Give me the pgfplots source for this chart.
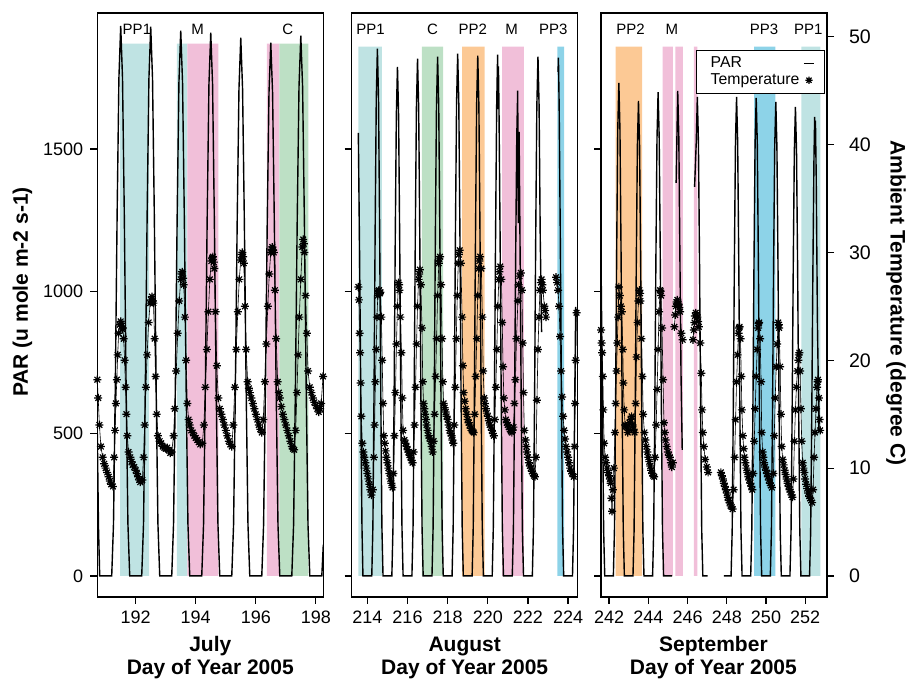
\documentclass[border=0pt]{standalone}
\usepackage{fontspec}
\setmainfont{Liberation Sans}
\usepackage{pgfplots}
\pgfplotsset{compat=1.18}

\definecolor{cPPone}{HTML}{BFE3E3}
\definecolor{cM}{HTML}{F1BFD9}
\definecolor{cC}{HTML}{BDE0C5}
\definecolor{cPPtwo}{HTML}{FCC995}
\definecolor{cPPthree}{HTML}{8DD3E8}

% R-like pch 8 star
\pgfdeclareplotmark{rstar}{%
  \pgfpathmoveto{\pgfqpoint{-\pgfplotmarksize}{0pt}}%
  \pgfpathlineto{\pgfqpoint{\pgfplotmarksize}{0pt}}%
  \pgfpathmoveto{\pgfqpoint{0pt}{-\pgfplotmarksize}}%
  \pgfpathlineto{\pgfqpoint{0pt}{\pgfplotmarksize}}%
  \pgfpathmoveto{\pgfqpoint{-.7071\pgfplotmarksize}{-.7071\pgfplotmarksize}}%
  \pgfpathlineto{\pgfqpoint{.7071\pgfplotmarksize}{.7071\pgfplotmarksize}}%
  \pgfpathmoveto{\pgfqpoint{-.7071\pgfplotmarksize}{.7071\pgfplotmarksize}}%
  \pgfpathlineto{\pgfqpoint{.7071\pgfplotmarksize}{-.7071\pgfplotmarksize}}%
  \pgfusepathqstroke}

\tikzset{blab/.style={font=\fontsize{7.5}{8}\selectfont, anchor=base}}
\pgfplotsset{
  panel/.style={width=113pt, height=292pt, scale only axis, anchor=south west,
    ymin=-74, ymax=1978, ytick={0,500,1000,1500}, tick pos=left,
    tick align=outside, major tick length=3.5pt,
    tick style={black, line width=0.6pt}, axis line style={line width=0.75pt},
    ticklabel style={font=\fontsize{9}{10}\selectfont},
    /pgf/number format/assume math mode=true, /pgf/number format/1000 sep={}},
  tempaxis/.style={width=113pt, height=292pt, scale only axis, anchor=south west,
    ymin=-1.95, ymax=52.2},
  par/.style={black, line width=0.7pt, no markers, unbounded coords=jump},
  tmp/.style={black, line width=0.3pt, mark=rstar, mark size=2pt,
    mark options={line width=0.6pt, solid}, unbounded coords=jump},
  band/.style={draw=none, fill=#1, forget plot},
}

\begin{document}
\begin{tikzpicture}
\useasboundingbox (0,0) rectangle (454pt,341.5pt);

% ---------------- July ----------------
\begin{axis}[panel, at={(48.65pt,43pt)}, xmin=190.72, xmax=198.25, xtick={192,194,196,198}]
\addplot[band=cPPone] coordinates {(191.48,0)(191.48,1870)(192.45,1870)(192.45,0)} \closedcycle;
\addplot[band=cPPone] coordinates {(193.37,0)(193.37,1870)(193.72,1870)(193.72,0)} \closedcycle;
\addplot[band=cM] coordinates {(193.72,0)(193.72,1870)(194.75,1870)(194.75,0)} \closedcycle;
\addplot[band=cM] coordinates {(196.37,0)(196.37,1870)(196.79,1870)(196.79,0)} \closedcycle;
\addplot[band=cC] coordinates {(196.79,0)(196.79,1870)(197.75,1870)(197.75,0)} \closedcycle;
\addplot[par] coordinates {
(190.72,500)(190.76,170)(190.8,0)
(191.2,0)(191.26,184)(191.32,667)(191.38,1266)(191.44,1749)(191.5,1933)(191.56,1749)(191.62,1266)(191.68,667)(191.74,184)(191.8,0)
(192.2,0)(192.26,183)(192.32,666)(192.38,1264)(192.44,1747)(192.5,1930)(192.56,1747)(192.62,1264)(192.68,666)(192.74,183)(192.8,0)
(193.2,0)(193.26,182)(193.32,661)(193.38,1255)(193.44,1734)(193.5,1916)(193.56,1734)(193.62,1255)(193.68,661)(193.74,182)(193.8,0)
(194.2,0)(194.26,181)(194.32,659)(194.38,1250)(194.44,1728)(194.5,1909)(194.56,1728)(194.62,1250)(194.68,659)(194.74,181)(194.8,0)
(195.2,0)(195.26,180)(195.32,652)(195.38,1239)(195.44,1711)(195.5,1891)(195.56,1711)(195.62,1239)(195.68,652)(195.74,180)(195.8,0)
(196.2,0)(196.26,178)(196.32,647)(196.38,1227)(196.44,1696)(196.5,1874)(196.56,1696)(196.62,1227)(196.68,647)(196.74,178)(196.8,0)
(197.2,0)(197.26,180)(197.32,655)(197.38,1243)(197.44,1718)(197.5,1898)(197.56,1718)(197.62,1243)(197.68,655)(197.74,180)(197.8,0)
(198.2,0)(198.25,110)
};
\node[blab] at (axis cs:192.04,1901) {PP1};
\node[blab] at (axis cs:194.06,1901) {M};
\node[blab] at (axis cs:197.07,1901) {C};
\end{axis}
\begin{axis}[tempaxis, at={(48.65pt,43pt)}, xmin=190.72, xmax=198.25, hide axis]
\addplot[tmp] coordinates {
(190.72,18.2)(190.75,16.5)(190.79,14)(190.84,12)(190.9,11)(190.95,10.4)(191.0,10)(191.05,9.6)(191.1,9.2)(191.14,8.8)(191.18,8.5)(191.24,8.3)
(191.28,11)(191.31,13.5)(191.34,16)(191.37,18.2)(191.4,20.5)(191.43,22.5)(191.47,23.3)(191.5,23.6)(191.52,23.4)(191.55,22.9)(191.57,23)
(191.6,22)(191.63,20)(191.66,17.5)(191.69,15)(191.72,13)(191.76,11.5)(191.82,11)(191.86,10.6)(191.9,10.3)(191.95,10.1)(192.0,9.8)(192.04,9.5)(192.08,9.2)(192.12,8.9)(192.15,8.7)(192.22,8.9)
(192.26,11)(192.3,14)(192.34,17.5)(192.38,20.5)(192.43,23.5)(192.48,25.3)(192.51,25.6)(192.54,25.9)(192.57,25.5)(192.59,25.3)
(192.63,22)(192.66,18.5)(192.7,15)(192.74,13)(192.8,12.5)(192.85,12.3)(192.9,12)(192.95,11.9)(193.0,11.8)(193.05,11.9)(193.1,11.7)(193.15,11.4)(193.2,11.5)
(193.26,13)(193.3,15.5)(193.35,19)(193.4,22.5)(193.45,25.5)(193.5,27.5)(193.53,28)(193.55,28.2)(193.58,27.6)(193.6,27)
(193.64,24)(193.68,20)(193.72,16)(193.76,14.5)(193.8,14)(193.85,13.5)(193.9,13.3)(193.95,13)(194.0,12.8)(194.05,12.6)(194.1,12.4)(194.15,12.2)(194.22,12.3)
(194.27,14)(194.32,17.5)(194.37,21)(194.42,24.5)(194.47,27.5)(194.52,29.2)(194.55,29.5)(194.57,29.6)(194.6,29.1)(194.62,28.5)
(194.66,24.5)(194.7,19.5)(194.75,16.5)(194.8,15.5)(194.85,15)(194.9,14.5)(194.95,14)(195.0,13.5)(195.05,13)(195.1,12.5)(195.15,12.2)(195.2,12)
(195.25,14)(195.3,17.5)(195.35,21)(195.4,24.5)(195.45,27.5)(195.5,29.3)(195.53,29.8)(195.55,30)(195.58,29.6)(195.6,29)
(195.64,25)(195.68,21)(195.73,18)(195.77,17.4)(195.8,17)(195.85,16.5)(195.9,16)(195.95,15.5)(196.0,15)(196.05,14.5)(196.1,14)(196.15,13.6)(196.2,13.3)
(196.25,14.5)(196.3,18)(196.35,21.5)(196.4,25)(196.45,28)(196.5,30)(196.53,30.3)(196.55,30.5)(196.58,30.2)(196.6,30)
(196.64,26.5)(196.68,22)(196.73,18)(196.77,17)(196.8,16.5)(196.85,15.7)(196.9,15)(196.95,14.5)(197.0,14)(197.05,13.5)(197.1,13)(197.15,12.5)(197.2,12)(197.24,11.8)(197.28,11.7)
(197.33,13.5)(197.37,17)(197.41,20.5)(197.45,24)(197.5,27.5)(197.55,30.5)(197.58,31.2)(197.6,30.8)(197.62,30)
(197.66,26)(197.7,22.5)(197.74,19)(197.8,17.5)(197.85,17)(197.9,16.5)(197.95,16.1)(198.0,15.8)(198.05,15.5)(198.1,15.2)(198.14,15.5)(198.18,16)(198.24,18.5)
};
\end{axis}

% ---------------- August ----------------
\begin{axis}[panel, at={(175.85pt,43pt)}, xmin=213.22, xmax=224.48, xtick={214,216,218,220,222,224}, yticklabels={}]
\addplot[band=cPPone] coordinates {(213.55,0)(213.55,1860)(214.72,1860)(214.72,0)} \closedcycle;
\addplot[band=cC] coordinates {(216.72,0)(216.72,1860)(217.77,1860)(217.77,0)} \closedcycle;
\addplot[band=cPPtwo] coordinates {(218.72,0)(218.72,1860)(219.84,1860)(219.84,0)} \closedcycle;
\addplot[band=cM] coordinates {(220.72,0)(220.72,1860)(221.8,1860)(221.8,0)} \closedcycle;
\addplot[band=cPPthree] coordinates {(223.47,0)(223.47,1860)(223.8,1860)(223.8,0)} \closedcycle;
\addplot[par] coordinates {
(213.55,1557)(213.61,1150)(213.674,620)(213.732,170)(213.78,0)
(214.22,0)(214.276,176)(214.332,639)(214.388,1214)(214.444,1677)(214.5,1853)(214.556,1677)(214.612,1214)(214.668,639)(214.724,176)(214.78,0)
(215.22,0)(215.276,170)(215.332,617)(215.388,1172)(215.444,1619)(215.5,1789)(215.556,1619)(215.612,1172)(215.668,617)(215.724,170)(215.78,0)
(216.22,0)(216.276,173)(216.332,627)(216.388,1191)(216.444,1645)(216.5,1818)(216.556,1645)(216.612,1191)(216.668,627)(216.724,173)(216.78,0)
(217.22,0)(217.276,173)(217.332,630)(217.388,1195)(217.444,1652)(217.5,1825)(217.556,1652)(217.612,1195)(217.668,630)(217.724,173)(217.78,0)
(218.22,0)(218.276,174)(218.332,633)(218.388,1202)(218.444,1661)(218.5,1835)(218.556,1661)(218.612,1202)(218.668,633)(218.724,174)(218.78,0)
(219.22,0)(219.276,174)(219.332,631)(219.388,1197)(219.444,1654)(219.5,1828)(219.556,1654)(219.612,1197)(219.668,631)(219.724,174)(219.78,0)
(220.22,0)(220.276,174)(220.332,632)(220.388,1200)(220.444,1658)(220.49,1832)(220.51,1640)(220.53,1790)(220.556,1658)(220.612,1200)(220.668,632)(220.724,174)(220.78,0)
(221.22,0)(221.276,162)(221.332,588)(221.388,1117)(221.444,1543)(221.49,1705)(221.52,1240)(221.56,1560)(221.612,1117)(221.668,588)(221.724,162)(221.78,0)
(222.22,0)(222.276,173)(222.332,630)(222.388,1195)(222.444,1652)(222.5,1825)(222.556,1652)(222.612,1195)(222.68,857)(222.7,nan)
(223.5,1771)(223.52,1821)(223.556,1648)(223.612,1193)(223.668,628)(223.724,173)(223.78,0)
(224.22,0)(224.276,173)(224.332,628)(224.38,945)
};
\node[blab] at (axis cs:214.16,1901) {PP1};
\node[blab] at (axis cs:217.25,1901) {C};
\node[blab] at (axis cs:219.25,1901) {PP2};
\node[blab] at (axis cs:221.19,1901) {M};
\node[blab] at (axis cs:223.26,1901) {PP3};
\end{axis}
\begin{axis}[tempaxis, at={(175.85pt,43pt)}, xmin=213.22, xmax=224.48, hide axis]
\addplot[tmp] coordinates {
(213.55,26.8)(213.58,25.6)(213.61,22.5)(213.64,20.7)(213.67,17.9)(213.7,14.8)(213.75,12.3)(213.8,11.5)(213.85,11)(213.9,10.5)(213.95,10)(214.0,9.5)(214.05,9)(214.1,8.5)(214.15,8)(214.2,7.5)
(214.27,8)(214.32,11)(214.36,14)(214.4,18)(214.44,21)(214.48,24)(214.52,26)(214.55,26.4)(214.58,26.5)(214.62,26.2)(214.65,26.3)
(214.7,24)(214.74,20)(214.78,16)(214.82,13)(214.87,12.3)(214.91,11.6)(214.95,11)(215.0,10.5)(215.05,10)(215.1,9.5)(215.15,9)(215.2,8.6)(215.25,8.2)
(215.3,9.5)(215.35,13)(215.4,17)(215.45,21.5)(215.5,25)(215.55,27.2)(215.58,27)(215.6,26.5)(215.65,24)
(215.7,20.7)(215.74,16.5)(215.78,13.5)(215.85,12.6)(215.9,12.3)(215.95,12)(216.0,11.7)(216.05,11.5)(216.1,11.2)(216.15,11)(216.2,10.7)(216.25,10.5)
(216.3,11.5)(216.35,14)(216.4,17.5)(216.45,21.5)(216.5,25)(216.55,27.5)(216.58,28)(216.62,28.4)(216.67,27)
(216.72,23)(216.76,18)(216.8,16)(216.84,15.5)(216.88,15)(216.92,14.5)(216.95,14)(217.0,13.5)(217.05,13)(217.1,12.8)(217.15,12.5)(217.2,12)(217.25,11.5)
(217.3,12.5)(217.35,15)(217.4,18.5)(217.45,22)(217.5,26)(217.56,29)(217.59,29.4)(217.62,29.6)(217.67,27)
(217.72,22)(217.76,18)(217.8,16)(217.85,15.6)(217.9,15.2)(217.95,14.8)(218.0,14.5)(218.05,14)(218.1,13.5)(218.15,13.2)(218.2,13)(218.24,12.6)(218.28,12.3)
(218.33,14)(218.38,17.5)(218.43,22)(218.48,26)(218.53,29)(218.56,29.8)(218.6,30.2)(218.66,29)
(218.72,24)(218.76,19.5)(218.8,17)(218.85,16.2)(218.9,15.5)(218.95,15)(219.0,14.5)(219.05,14.2)(219.1,14)(219.15,13.7)(219.2,13.5)(219.25,13.4)(219.3,13.3)
(219.35,15)(219.4,18.5)(219.45,22)(219.5,26)(219.55,28.5)(219.58,29.2)(219.62,29.6)(219.68,28.5)
(219.73,24)(219.77,19)(219.82,16.5)(219.86,16)(219.9,15.5)(219.95,15.1)(220.0,14.8)(220.05,14.4)(220.1,14)(220.15,13.8)(220.2,13.5)(220.25,13.2)(220.3,13)
(220.35,14.5)(220.4,17.5)(220.45,21)(220.5,25)(220.55,27.5)(220.58,28.2)(220.62,28.7)(220.68,27.5)
(220.72,23.5)(220.76,19.4)(220.8,16.5)(220.85,15.4)(220.9,14.5)(220.95,14.2)(221.0,14)(221.05,13.8)(221.1,13.6)(221.15,13.4)(221.2,13.3)(221.24,13.5)(221.28,13.8)
(221.33,16)(221.38,18.2)(221.43,22)(221.5,25.5)(221.54,27)(221.58,27.8)(221.65,28.1)(221.7,26.5)
(221.74,21.6)(221.78,17)(221.82,13.5)(221.88,12.6)(221.92,12)(221.95,11.5)(222.0,11)(222.05,10.5)(222.1,10.2)(222.15,10)(222.2,9.7)(222.25,9.5)(222.3,9.3)(222.35,9.2)
(222.4,11)(222.45,16.3)(222.5,21)(222.55,24)(222.6,26.5)(222.64,27.2)(222.68,27.5)(222.72,27)(222.75,26.5)(222.82,25)(222.86,24.6)(222.9,24)
(223.0,nan)
(223.4,27.7)(223.45,27.2)(223.5,26.5)(223.55,25)(223.6,22.2)(223.65,19)(223.7,16.6)(223.75,14.8)(223.8,13.5)
(223.85,12.7)(223.9,12)(223.95,11.5)(224.0,11)(224.05,10.5)(224.1,10)(224.15,9.7)(224.2,9.5)(224.28,9.2)(224.32,12)(224.35,16)(224.38,20)(224.42,24.4)
};
\end{axis}

% ---------------- September ----------------
\begin{axis}[panel, at={(300.5pt,43pt)}, xmin=241.59, xmax=253.11, xtick={242,244,246,248,250,252}, yticklabels={}]
\addplot[band=cPPtwo] coordinates {(242.34,0)(242.34,1860)(243.68,1860)(243.68,0)} \closedcycle;
\addplot[band=cM] coordinates {(244.73,0)(244.73,1860)(245.25,1860)(245.25,0)} \closedcycle;
\addplot[band=cM] coordinates {(245.38,0)(245.38,1860)(245.76,1860)(245.76,0)} \closedcycle;
\addplot[band=cM] coordinates {(246.32,0)(246.32,1860)(246.5,1860)(246.5,0)} \closedcycle;
\addplot[band=cPPthree] coordinates {(249.4,0)(249.4,1860)(250.48,1860)(250.48,0)} \closedcycle;
\addplot[band=cPPone] coordinates {(251.8,0)(251.8,1860)(252.77,1860)(252.77,0)} \closedcycle;
\addplot[par] coordinates {
(241.59,1120)(241.668,580)(241.724,160)(241.78,0)
(242.22,0)(242.276,165)(242.332,598)(242.388,1134)(242.444,1567)(242.5,1732)(242.556,1567)(242.612,1134)(242.668,598)(242.724,165)(242.78,0)
(243.22,0)(243.276,159)(243.332,576)(243.388,1093)(243.444,1510)(243.5,1669)(243.556,1510)(243.612,1093)(243.668,576)(243.724,159)(243.78,0)
(244.22,0)(244.276,162)(244.332,587)(244.388,1114)(244.444,1539)(244.5,1700)(244.556,1539)(244.612,1114)(244.668,587)(244.724,162)(244.78,0)
(245.22,0)(245.3,nan)
(245.42,1381)(245.5,1704)(245.556,1542)(245.612,1116)(245.67,700)(245.73,443)(245.8,nan)
(246.36,1367)(246.444,1523)(246.5,1683)(246.556,1523)(246.612,1102)(246.668,581)(246.724,160)(246.78,0)(247.03,0)(247.4,nan)
(247.85,0)(248.22,0)(248.276,160)(248.332,581)(248.388,1102)(248.444,1523)(248.5,1683)(248.556,1523)(248.612,1102)(248.668,581)(248.724,160)(248.78,0)
(249.22,0)(249.276,160)(249.332,580)(249.388,1100)(249.444,1520)(249.5,1680)(249.556,1520)(249.612,1100)(249.668,580)(249.724,160)(249.78,0)
(250.22,0)(250.276,158)(250.332,575)(250.388,1091)(250.444,1508)(250.5,1666)(250.556,1508)(250.612,1091)(250.668,575)(250.724,158)(250.78,0)
(251.22,0)(251.276,157)(251.332,569)(251.388,1079)(251.444,1491)(251.5,1648)(251.556,1491)(251.612,1079)(251.668,569)(251.724,157)(251.78,0)
(252.22,0)(252.276,153)(252.332,556)(252.388,1057)(252.444,1460)(252.48,1613)(252.5,1540)(252.52,1600)(252.56,1400)(252.62,900)(252.7,506)
};
\node[blab] at (axis cs:243.1,1901) {PP2};
\node[blab] at (axis cs:245.2,1901) {M};
\node[blab] at (axis cs:249.9,1901) {PP3};
\node[blab] at (axis cs:252.15,1901) {PP1};
\end{axis}
\begin{axis}[tempaxis, at={(300.5pt,43pt)}, xmin=241.59, xmax=253.11,
  axis x line=none, axis y line*=right, ytick={0,10,20,30,40,50},
  tick align=outside, major tick length=3.5pt, tick style={black, line width=0.6pt},
  axis line style={line width=0.75pt},
  yticklabel style={font=\fontsize{9.8}{11}\selectfont, xshift=4pt},
  /pgf/number format/assume math mode=true,
  legend plot pos=right,
  legend style={at={(0.992,0.937)}, anchor=north east, draw=black, line width=0.6pt,
    font=\fontsize{7.9}{8.6}\selectfont, inner xsep=5pt, inner ysep=1pt, row sep=-2.5pt,
    cells={anchor=west}}]
\addlegendimage{legend image code/.code={\draw[black, line width=0.5pt] (0cm,0cm) -- (0.18cm,0cm);}}
\addlegendentry{PAR}
\addplot[tmp, legend image code/.code={\draw[mark=rstar, mark size=1.8pt, mark options={line width=0.6pt}] plot[only marks] coordinates {(0.09cm,0cm)};}] coordinates {
(241.59,22.8)(241.62,21.6)(241.65,20.7)(241.68,18.5)(241.71,15.4)(241.75,12.3)(241.8,11)(241.85,10.5)(241.9,10)(241.95,9.6)(242.0,9.3)(242.04,9)(242.08,8.6)(242.12,7.2)(242.15,6)(242.2,8)
(242.25,10)(242.3,13.3)(242.34,16)(242.38,19)(242.42,21.6)(242.46,24)(242.5,26.8)(242.55,26)(242.6,25)(242.65,24.5)
(242.7,21)(242.73,17.9)(242.77,15.4)(242.82,14)(242.86,13.9)(242.9,13.8)(242.95,13.3)(243.0,13.5)(243.05,14.2)(243.1,14.5)(243.15,14.8)(243.2,14)(243.25,13.6)(243.3,13.3)
(243.36,16)(243.4,20.3)(243.45,23.5)(243.5,25.5)(243.55,26.5)(243.58,26.2)(243.6,25.5)
(243.65,22)(243.7,18.5)(243.74,15)(243.8,13.3)(243.85,12.6)(243.9,12)(243.95,11.5)(244.0,11)(244.05,10.6)(244.1,10.2)(244.15,9.8)(244.2,9.5)(244.25,9.3)(244.3,9.2)
(244.35,11)(244.4,14)(244.45,17.3)(244.5,21)(244.55,24.5)(244.6,26.5)(244.63,26.4)(244.65,26)
(244.7,23)(244.75,18.2)(244.8,14.2)(244.84,13.3)(244.88,12.6)(244.94,12)(245.0,11.5)(245.05,11.2)(245.1,11)(245.15,10.5)(245.2,10.1)(245.25,10.5)
(245.29,nan)
(245.33,23.1)(245.37,24.2)(245.4,25)(245.44,25.4)(245.48,25.6)(245.52,25.3)(245.55,25.2)(245.59,24.9)(245.62,24.5)(245.68,22.5)(245.75,21.9)
(246.0,nan)
(246.28,21.9)(246.32,22.8)(246.35,23.5)(246.38,24.1)(246.42,24.4)(246.46,24.2)(246.5,24)(246.54,23.6)(246.58,23.1)(246.65,21.6)(246.7,18.8)(246.74,15.4)(246.78,13.3)(246.83,12)(246.9,10.8)(246.98,10.1)(247.05,9.6)
(247.4,nan)
(247.7,9.6)(247.75,9.3)(247.8,9)(247.85,8.6)(247.9,8.3)(247.95,8)(248.0,7.7)(248.05,7.3)(248.1,7)(248.15,6.8)(248.2,6.5)(248.25,6.4)(248.3,6.2)
(248.35,8)(248.4,11)(248.45,14.5)(248.5,18)(248.55,20.5)(248.6,22.5)(248.63,23)(248.65,23.1)
(248.7,22)(248.74,18.5)(248.77,15.4)(248.82,13)(248.86,11.8)(248.9,11)(248.95,10.5)(249.0,10)(249.05,9.6)(249.1,9.2)(249.15,8.9)(249.2,8.6)(249.25,8.3)(249.3,8)
(249.35,9.5)(249.4,12.5)(249.45,15.5)(249.5,18.5)(249.55,21)(249.6,23)(249.63,23.4)(249.65,23.5)
(249.7,22)(249.75,18)(249.78,13.3)(249.83,11.5)(249.87,11)(249.9,10.5)(249.95,10.1)(250.0,9.8)(250.05,9.5)(250.1,9.2)(250.15,8.9)(250.2,8.6)(250.25,8.4)(250.3,8.2)
(250.38,9.5)(250.42,13)(250.47,16.5)(250.52,19.4)(250.57,21.5)(250.62,23.5)(250.65,23.3)(250.67,23)
(250.72,19.4)(250.76,15)(250.8,12)(250.85,10.8)(250.9,10.3)(250.95,9.8)(251.0,9.4)(251.05,9)(251.1,8.6)(251.15,8.3)(251.2,8)(251.25,7.8)(251.3,7.5)(251.35,7.3)
(251.4,9)(251.45,12.5)(251.5,15.4)(251.55,17.5)(251.6,19)(251.65,20)(251.68,20.5)(251.7,20.7)
(251.74,19)(251.78,15.5)(251.82,12.5)(251.87,10.5)(251.91,10)(251.95,9.6)(252.0,9)(252.05,8.5)(252.1,8.1)(252.15,7.7)(252.2,7.4)(252.25,7.2)(252.3,7)(252.35,6.8)
(252.4,8)(252.45,11)(252.5,13.3)(252.55,15.5)(252.6,17.5)(252.63,18)(252.65,18.2)(252.7,16.5)(252.73,14.5)(252.76,13.5)
};
\addlegendentry{Temperature}
\end{axis}

% ---------------- axis titles ----------------
\node[rotate=90, font=\bfseries\fontsize{10.5}{12}\selectfont] at (11.25pt,195.5pt) {PAR (u mole m-2 s-1)};
\node[rotate=-90, font=\bfseries\fontsize{10.5}{12}\selectfont] at (448pt,190pt) {Ambient Temperature (degree C)};
\foreach \cx/\mon in {105.15/July, 232.35/August, 356.7/September} {
  \node[anchor=base, font=\bfseries\fontsize{10.5}{12}\selectfont] at (\cx pt,15.5pt) {\mon};
  \node[anchor=base, font=\bfseries\fontsize{10.5}{12}\selectfont] at (\cx pt,4pt) {Day of Year 2005};
}
\end{tikzpicture}
\end{document}
